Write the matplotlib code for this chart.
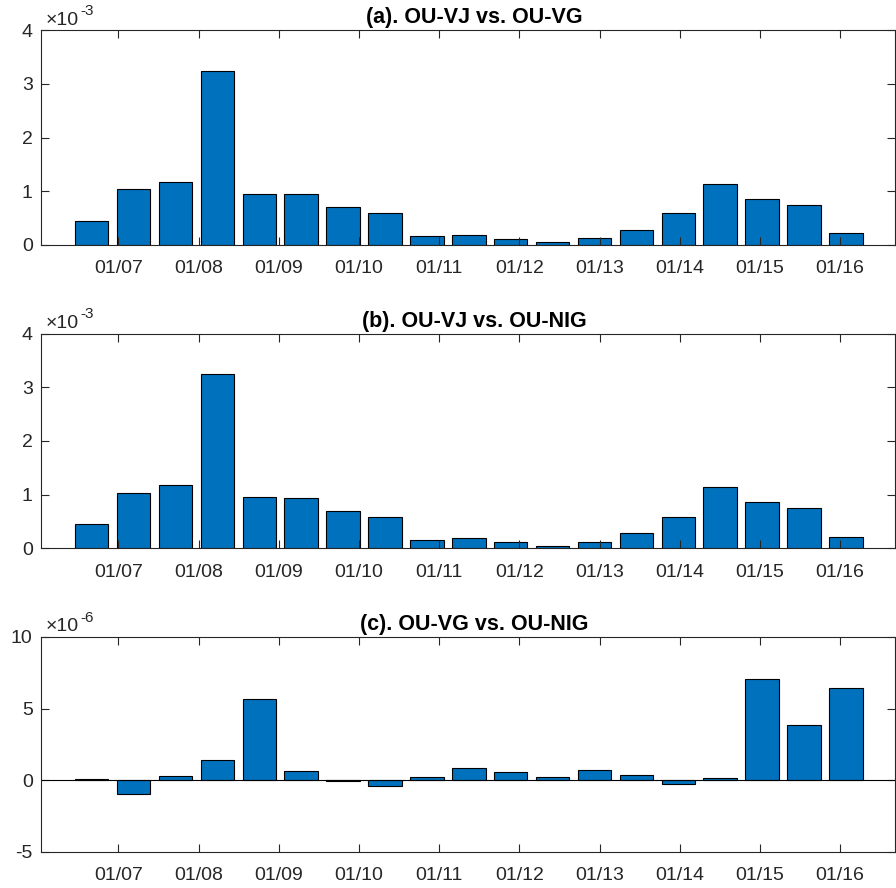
import numpy as np
import matplotlib.pyplot as plt

plt.rcParams['font.family'] = ['Liberation Sans', 'DejaVu Sans']
plt.rcParams['mathtext.fontset'] = 'custom'
plt.rcParams['mathtext.rm'] = 'Liberation Sans'
plt.rcParams['mathtext.default'] = 'regular'
plt.rcParams['axes.unicode_minus'] = False

# differences between models, one bar per period
# panels (a) and (b) in units of 1e-3, panel (c) in units of 1e-6
vj_vg = [0.45, 1.04, 1.18, 3.25, 0.95, 0.945, 0.70, 0.59, 0.16, 0.19,
         0.12, 0.05, 0.125, 0.28, 0.59, 1.145, 0.85, 0.74, 0.22]
vj_nig = [0.45, 1.04, 1.18, 3.25, 0.95, 0.945, 0.70, 0.59, 0.16, 0.19,
          0.12, 0.05, 0.125, 0.28, 0.59, 1.14, 0.855, 0.745, 0.22]
vg_nig = [0.08, -0.95, 0.28, 1.40, 5.65, 0.67, -0.07, -0.44, 0.21, 0.84,
          0.56, 0.19, 0.72, 0.35, -0.30, 0.14, 7.05, 3.88, 6.42]

tick_labels = ["01/07", "01/08", "01/09", "01/10", "01/11",
               "01/12", "01/13", "01/14", "01/15", "01/16"]

titles = ["(a). OU-VJ vs. OU-VG", "(b). OU-VJ vs. OU-NIG", "(c). OU-VG vs. OU-NIG"]
exps = ["-3", "-3", "-6"]
ylims = [(0, 4), (0, 4), (-5, 10)]
yticks = [[0, 1, 2, 3, 4], [0, 1, 2, 3, 4], [-5, 0, 5, 10]]

bar_color = "#0072BD"
ax_color = "#262626"

x = np.arange(len(vj_vg))
# year ticks sit between the half-yearly bars
tick_pos = [0.635 + 1.914 * k for k in range(len(tick_labels))]

fig = plt.figure(figsize=(8.96, 8.88), dpi=100)
bottoms = [0.7241, 0.3825, 0.0409]

for i, vals in enumerate([vj_vg, vj_nig, vg_nig]):
    ax = fig.add_axes([0.0458, bottoms[i], 0.9535, 0.2418])
    ax.bar(x, vals, width=0.8, color=bar_color, edgecolor="black", linewidth=0.8)
    if i == 2:
        ax.axhline(0, color="black", linewidth=0.8)
    ax.set_xlim(-1.21, 19.18)
    ax.set_ylim(*ylims[i])
    ax.set_xticks(tick_pos)
    ax.set_xticklabels(tick_labels)
    ax.set_yticks(yticks[i])
    ax.tick_params(direction="in", length=6, width=0.8, colors=ax_color,
                   labelsize=14, top=True, right=True)
    ax.tick_params(axis="x", pad=11)
    ax.tick_params(axis="y", pad=6)
    for s in ax.spines.values():
        s.set_color(ax_color)
        s.set_linewidth(0.8)
    ax.set_title(titles[i], fontsize=15.5, fontweight="bold", pad=5, x=0.507)
    # exponent label like matlab: x10 with superscript
    ax.annotate("×10", xy=(0, 1), xycoords="axes fraction", xytext=(3, 4),
                textcoords="offset points", fontsize=14, color=ax_color,
                ha="left", va="baseline")
    ax.annotate(exps[i], xy=(0, 1), xycoords="axes fraction", xytext=(28, 11),
                textcoords="offset points", fontsize=11, color=ax_color,
                ha="left", va="baseline")

plt.savefig("out.png", dpi=100)
plt.close()
